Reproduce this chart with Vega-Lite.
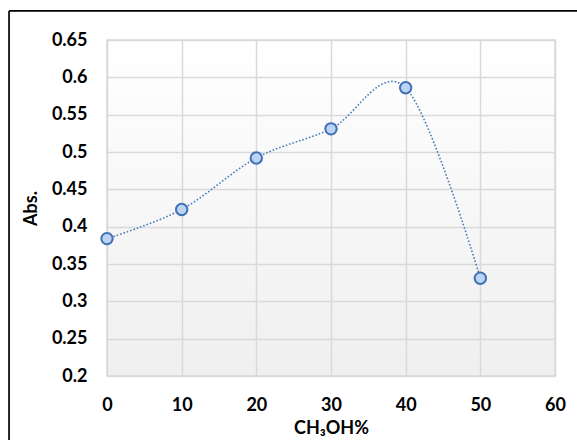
{
  "$schema": "https://vega.github.io/schema/vega-lite/v6.json",
  "width": 448,
  "height": 336,
  "autosize": "none",
  "padding": {"left": 107, "top": 40, "right": 22, "bottom": 64},
  "background": "white",
  "config": {
    "font": "Lato",
    "view": {
      "stroke": "#d9d9d9",
      "strokeWidth": 1.5,
      "fill": {
        "gradient": "linear",
        "x1": 0, "y1": 0, "x2": 0, "y2": 1,
        "stops": [
          {"offset": 0, "color": "#ffffff"},
          {"offset": 1, "color": "#efefef"}
        ]
      }
    },
    "axis": {
      "gridColor": "#d9d9d9",
      "gridWidth": 1.5,
      "domain": false,
      "ticks": false,
      "labelOverlap": false,
      "labelFlush": false,
      "labelFont": "Lato",
      "labelFontWeight": "bold",
      "labelFontSize": 18,
      "labelColor": "#000000",
      "titleFont": "Lato",
      "titleFontWeight": "bold",
      "titleFontSize": 18,
      "titleColor": "#000000"
    }
  },
  "data": {
    "values": [
      {"methanol": 0, "abs": 0.384},
      {"methanol": 10, "abs": 0.423},
      {"methanol": 20, "abs": 0.492},
      {"methanol": 30, "abs": 0.531},
      {"methanol": 40, "abs": 0.586},
      {"methanol": 50, "abs": 0.331}
    ]
  },
  "layer": [
    {
      "mark": {
        "type": "line",
        "interpolate": "cardinal",
        "color": "#4a7ebb",
        "strokeWidth": 1.6,
        "strokeDash": [1.6, 1.9],
        "strokeCap": "butt"
      },
      "encoding": {
        "x": {
          "field": "methanol",
          "type": "quantitative",
          "scale": {"domain": [0, 60], "nice": false, "zero": false},
          "axis": {
            "values": [0, 10, 20, 30, 40, 50, 60],
            "tickCount": 20,
            "grid": true,
            "labelPadding": 20,
            "title": "CH₃OH%",
            "titlePadding": 5
          }
        },
        "y": {
          "field": "abs",
          "type": "quantitative",
          "scale": {"domain": [0.2, 0.65], "nice": false, "zero": false},
          "axis": {
            "values": [0.2, 0.25, 0.3, 0.35, 0.4, 0.45, 0.5, 0.55, 0.6, 0.65],
            "tickCount": 20,
            "format": ".2~f",
            "grid": true,
            "labelPadding": 20,
            "title": "Abs.",
            "titlePadding": 11
          }
        }
      }
    },
    {
      "mark": {
        "type": "point",
        "shape": "circle",
        "filled": true,
        "size": 130,
        "fill": "#bcd3f6",
        "stroke": "#3f71b3",
        "strokeWidth": 2,
        "opacity": 1
      },
      "encoding": {
        "x": {"field": "methanol", "type": "quantitative"},
        "y": {"field": "abs", "type": "quantitative"}
      }
    },
    {
      "data": {"values": [{}]},
      "mark": {"type": "rule", "color": "#000000", "strokeWidth": 1.7, "clip": false},
      "encoding": {
        "x": {"datum": -13.12, "type": "quantitative"},
        "y": {"datum": 0.689, "type": "quantitative"},
        "y2": {"datum": 0.1}
      }
    },
    {
      "data": {"values": [{}]},
      "mark": {"type": "rule", "color": "#000000", "strokeWidth": 1.7, "clip": false},
      "encoding": {
        "x": {"datum": -13.12, "type": "quantitative"},
        "x2": {"datum": 75},
        "y": {"datum": 0.689, "type": "quantitative"}
      }
    }
  ]
}
